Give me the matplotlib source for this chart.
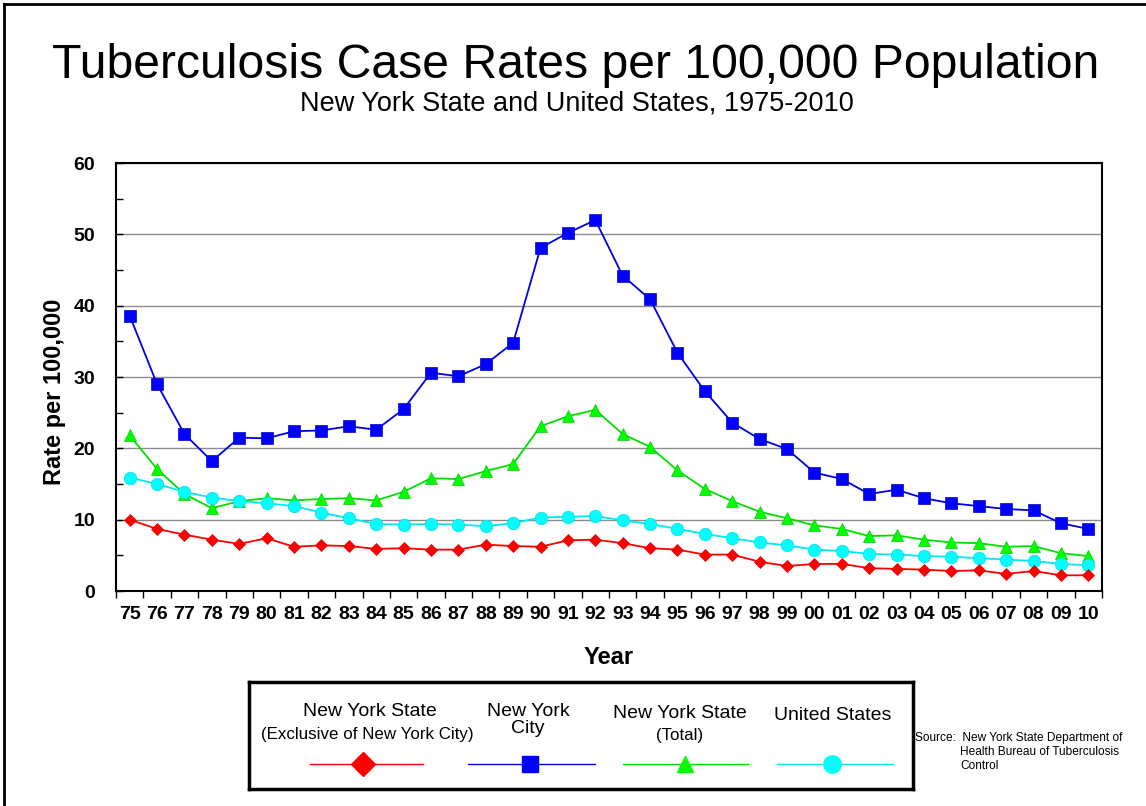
import matplotlib
matplotlib.use("Agg")
import matplotlib.pyplot as plt
from matplotlib.lines import Line2D
import numpy as np

plt.rcParams['font.family'] = ['Liberation Sans', 'DejaVu Sans']

years = ["75", "76", "77", "78", "79", "80", "81", "82", "83", "84", "85", "86",
         "87", "88", "89", "90", "91", "92", "93", "94", "95", "96", "97", "98",
         "99", "00", "01", "02", "03", "04", "05", "06", "07", "08", "09", "10"]

nys_excl = [10.0, 8.7, 7.9, 7.2, 6.6, 7.4, 6.2, 6.4, 6.3, 5.9, 6.0, 5.8,
            5.8, 6.5, 6.3, 6.2, 7.1, 7.2, 6.7, 6.0, 5.8, 5.1, 5.1, 4.1,
            3.5, 3.8, 3.8, 3.2, 3.1, 3.0, 2.8, 2.9, 2.4, 2.8, 2.2, 2.2]

nyc = [38.6, 29.0, 22.0, 18.2, 21.5, 21.4, 22.4, 22.5, 23.1, 22.6, 25.5, 30.6,
       30.1, 31.8, 34.8, 48.1, 50.2, 52.0, 44.2, 40.9, 33.4, 28.0, 23.6, 21.3,
       19.9, 16.6, 15.7, 13.6, 14.2, 13.0, 12.3, 11.9, 11.5, 11.3, 9.5, 8.7]

nys_total = [21.8, 17.1, 13.6, 11.6, 12.6, 13.0, 12.7, 12.9, 13.0, 12.7, 13.9, 15.8,
             15.7, 16.8, 17.8, 23.1, 24.5, 25.4, 22.0, 20.2, 16.9, 14.3, 12.6, 11.1,
             10.2, 9.2, 8.7, 7.7, 7.8, 7.2, 6.8, 6.7, 6.2, 6.3, 5.3, 4.9]

us = [15.9, 15.0, 13.9, 13.1, 12.6, 12.3, 11.9, 11.0, 10.2, 9.4, 9.3, 9.4,
      9.3, 9.1, 9.5, 10.3, 10.4, 10.5, 9.9, 9.4, 8.7, 8.0, 7.4, 6.8,
      6.4, 5.8, 5.6, 5.2, 5.1, 4.9, 4.8, 4.6, 4.4, 4.2, 3.8, 3.6]

series_labels = [("New York State", "(Exclusive of New York City)"),
                 ("New York\nCity", None),
                 ("New York State", "(Total)"),
                 ("United States", None)]

fig = plt.figure(figsize=(11.46, 8.06), dpi=100)
W, H = 1146, 806

def fx(px):
    return px / W

def fy(py):
    return 1 - py / H

ax = fig.add_axes([fx(116), fy(591), fx(1102) - fx(116), fy(163) - fy(591)])
x = np.arange(len(years))

ax.yaxis.grid(True, color='#8c8c8c', linewidth=1.0)
ax.set_axisbelow(True)

ax.plot(x, nyc, color='#0000e0', lw=1.3, marker='s', ms=9, mfc='#0000ff', mec='#0000cc', mew=0.5, zorder=3)
ax.plot(x, nys_total, color='#00e000', lw=1.3, marker='^', ms=9, mfc='#00ff00', mec='#00cc00', mew=0.5, zorder=3)
ax.plot(x, us, color='#00e8f0', lw=1.3, marker='o', ms=9, mfc='#00ffff', mec='#00e0e8', mew=0.5, zorder=3)
ax.plot(x, nys_excl, color='#ff0000', lw=1.3, marker='D', ms=6.5, mfc='#ff0000', mec='#e00000', mew=0.5, zorder=4)

ax.set_xlim(-0.5, len(years) - 0.5)
ax.set_ylim(0, 60)
ax.set_yticks(np.arange(0, 61, 10))
ax.set_yticks(np.arange(5, 60, 10), minor=True)
ax.tick_params(axis='y', which='both', direction='in', length=5, width=1, labelsize=14, pad=15)
ax.yaxis.grid(False, which='minor')
for lab in ax.get_yticklabels():
    lab.set_fontweight('bold')

ax.set_xticks(np.arange(-0.5, len(years), 1.0))
ax.set_xticklabels([])
ax.set_xticks(x, minor=True)
ax.set_xticklabels(years, minor=True, fontsize=14, fontweight='bold')
ax.tick_params(axis='x', which='major', direction='out', length=5, width=1)
ax.tick_params(axis='x', which='minor', length=0, pad=11)

for s in ax.spines.values():
    s.set_linewidth(1.5)
    s.set_color('black')

fig.text(fx(55), fy(392), "Rate per 100,000", rotation=90, ha='center', va='center',
         fontsize=17, fontweight='bold')
ax.set_xlabel("Year", fontsize=17, fontweight='bold', labelpad=16)

fig.text(fx(576), fy(78), "Tuberculosis Case Rates per 100,000 Population",
         ha='center', va='baseline', fontsize=34.7)
fig.text(fx(577), fy(111), "New York State and United States, 1975-2010",
         ha='center', va='baseline', fontsize=19.5)

# Figure border (left and top)
fig.add_artist(Line2D([fx(4), fx(4)], [0, fy(4)], color='black', lw=2))
fig.add_artist(Line2D([fx(4), 1], [fy(4), fy(4)], color='black', lw=2))

# Legend box
lax = fig.add_axes([fx(249), fy(789), fx(913) - fx(249), fy(682) - fy(789)])
lax.set_xlim(249, 913)
lax.set_ylim(789, 682)
lax.set_xticks([])
lax.set_yticks([])
for s in lax.spines.values():
    s.set_linewidth(2.5)
    s.set_color('black')

leg_keys = [
    dict(x0=310, x1=423, xm=363, color='#ff0000', marker='D', ms=12),
    dict(x0=468, x1=595, xm=530, color='#0000e0', marker='s', ms=11),
    dict(x0=623, x1=748, xm=685, color='#00e000', marker='^', ms=12),
    dict(x0=777, x1=893, xm=832, color='#00e8f0', marker='o', ms=12.5),
]
mfcs = ['#ff0000', '#0000ff', '#00ff00', '#00ffff']
for k, mfc in zip(leg_keys, mfcs):
    lax.plot([k['x0'], k['x1']], [764, 764], color=k['color'], lw=1.0)
    lax.plot([k['xm']], [764], marker=k['marker'], ms=k['ms'], color=mfc, mec=mfc, lw=0)

lax.text(370, 711, series_labels[0][0], ha='center', va='center', fontsize=14)
lax.text(367, 734, series_labels[0][1], ha='center', va='center', fontsize=12.2)
lax.text(528, 720, series_labels[1][0], ha='center', va='center', fontsize=14, linespacing=0.95)
lax.text(680, 713, series_labels[2][0], ha='center', va='center', fontsize=14)
lax.text(680, 735, series_labels[2][1], ha='center', va='center', fontsize=12.2)
lax.text(833, 715, series_labels[3][0], ha='center', va='center', fontsize=14)

fig.text(fx(915), fy(738), "Source:  New York State Department of", ha='left', va='center', fontsize=8.6)
fig.text(fx(960), fy(752), "Health Bureau of Tuberculosis", ha='left', va='center', fontsize=8.6)
fig.text(fx(960), fy(766), "Control", ha='left', va='center', fontsize=8.6)

fig.savefig("out.png", dpi=100)
